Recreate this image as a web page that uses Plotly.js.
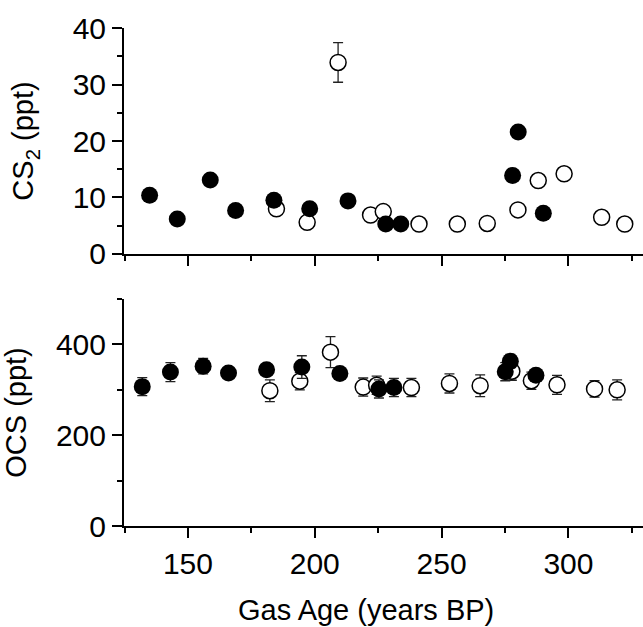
<!DOCTYPE html>
<html>
<head>
<meta charset="utf-8">
<script src="https://cdn.plot.ly/plotly-3.0.1.min.js"></script>
<style>html,body{margin:0;padding:0;background:#fff;}#chart{width:643px;height:627px;}</style>
</head>
<body>
<div id="chart"></div>
<script>
// CS2 (top panel)
const cs2OpenAge = [184.9, 197.0, 209.2, 222.0, 227.0, 241.1, 256.2, 268.0, 280.1, 288.1, 298.3, 313.1, 322.2];
const cs2OpenVal = [8.0, 5.6, 33.9, 6.9, 7.5, 5.3, 5.3, 5.4, 7.8, 13.0, 14.2, 6.5, 5.3];
const cs2OpenErr = [null, null, 3.5, null, null, null, null, null, null, null, null, null, null];
const cs2FillAge = [134.9, 145.8, 158.8, 168.8, 183.9, 198.0, 213.1, 228.0, 233.9, 278.0, 280.2, 290.1];
const cs2FillVal = [10.4, 6.2, 13.1, 7.7, 9.5, 8.0, 9.4, 5.3, 5.3, 13.9, 21.6, 7.2];

// OCS (bottom panel)
const ocsOpenAge = [182.3, 194.1, 206.2, 219.1, 224.4, 238.1, 253.1, 265.2, 277.7, 285.4, 295.5, 310.3, 319.2];
const ocsOpenVal = [298, 319, 383, 306, 310, 305, 314, 309, 341, 320, 311, 302, 300];
const ocsOpenErr = [24, 19, 34, 20, 20, 20, 21, 24, 20, 19, 21, 18, 22];
const ocsFillAge = [132.0, 143.1, 156.0, 166.0, 181.0, 194.9, 209.9, 225.3, 231.2, 275.1, 277.1, 287.2];
const ocsFillVal = [307, 339, 352, 337, 344, 350, 336, 302, 305, 340, 363, 332];
const ocsFillErr = [20, 21, 17, 10, 12, 25, 10, 20, 20, 20, 15, 12];

const xTickVals = [150, 200, 250, 300];
const xTickText = ['150', '200', '250', '300'];
const xTitle = 'Gas Age (years BP)';

const openMarker = {symbol: 'circle', size: 16, color: '#ffffff', line: {color: '#000000', width: 1.5}};
const fillMarker = {symbol: 'circle', size: 17, color: '#000000', line: {color: '#000000', width: 0}};
const errStyle = (arr) => ({type: 'data', array: arr, visible: true, color: '#222222', thickness: 1.3, width: 5});

const traces = [
  {x: cs2OpenAge, y: cs2OpenVal, xaxis: 'x2', yaxis: 'y2', mode: 'markers', type: 'scatter',
   marker: openMarker, error_y: errStyle(cs2OpenErr), cliponaxis: false, showlegend: false},
  {x: cs2FillAge, y: cs2FillVal, xaxis: 'x2', yaxis: 'y2', mode: 'markers', type: 'scatter',
   marker: fillMarker, cliponaxis: false, showlegend: false},
  {x: ocsOpenAge, y: ocsOpenVal, xaxis: 'x', yaxis: 'y', mode: 'markers', type: 'scatter',
   marker: openMarker, error_y: errStyle(ocsOpenErr), cliponaxis: false, showlegend: false},
  {x: ocsFillAge, y: ocsFillVal, xaxis: 'x', yaxis: 'y', mode: 'markers', type: 'scatter',
   marker: fillMarker, error_y: errStyle(ocsFillErr), cliponaxis: false, showlegend: false}
];

const fam = '"Liberation Sans", Arial, sans-serif';
const tickFont = {family: fam, size: 30, color: '#000000'};
const titleFont = {family: fam, size: 29, color: '#000000'};
const axBase = {
  showline: true, linecolor: '#000000', linewidth: 2, mirror: false,
  showgrid: false, zeroline: false,
  ticks: 'outside', ticklen: 10, tickwidth: 2, tickcolor: '#000000',
  tickfont: tickFont
};

const layout = {
  width: 643, height: 627,
  margin: {l: 124, r: 0, t: 28, b: 101, pad: 0},
  paper_bgcolor: '#ffffff', plot_bgcolor: '#ffffff',
  font: titleFont,
  showlegend: false,
  xaxis: Object.assign({}, axBase, {
    domain: [0, 1], anchor: 'y', range: [124.8, 329.4],
    tickvals: xTickVals, ticktext: xTickText,
    minor: {dtick: 25, tick0: 125, ticks: 'outside', ticklen: 5, tickwidth: 2, tickcolor: '#000000'}
  }),
  xaxis2: Object.assign({}, axBase, {
    domain: [0, 1], anchor: 'y2', range: [124.8, 329.4], matches: 'x',
    tickvals: xTickVals, showticklabels: false,
    minor: {dtick: 25, tick0: 125, ticks: 'outside', ticklen: 5, tickwidth: 2, tickcolor: '#000000'}
  }),
  yaxis: Object.assign({}, axBase, {
    domain: [0, 0.4558], anchor: 'x', range: [0, 500],
    tickvals: [0, 200, 400],
    minor: {dtick: 100, tick0: 0, ticks: 'outside', ticklen: 5, tickwidth: 2, tickcolor: '#000000'},
    title: {text: 'OCS (ppt)', font: titleFont, standoff: 30}
  }),
  yaxis2: Object.assign({}, axBase, {
    domain: [0.5462, 1], anchor: 'x2', range: [0, 40],
    tickvals: [0, 10, 20, 30, 40],
    minor: {dtick: 5, tick0: 0, ticks: 'outside', ticklen: 5, tickwidth: 2, tickcolor: '#000000'},
    title: {text: 'CS<sub>2</sub> (ppt)', font: titleFont, standoff: 30}
  }),
  annotations: [
    {text: xTitle, xref: 'paper', yref: 'paper', x: 0.466, y: 0, xanchor: 'center', yanchor: 'middle',
     yshift: -84, showarrow: false, font: titleFont}
  ]
};

Plotly.newPlot('chart', traces, layout, {displayModeBar: false, staticPlot: true});
</script>
</body>
</html>
